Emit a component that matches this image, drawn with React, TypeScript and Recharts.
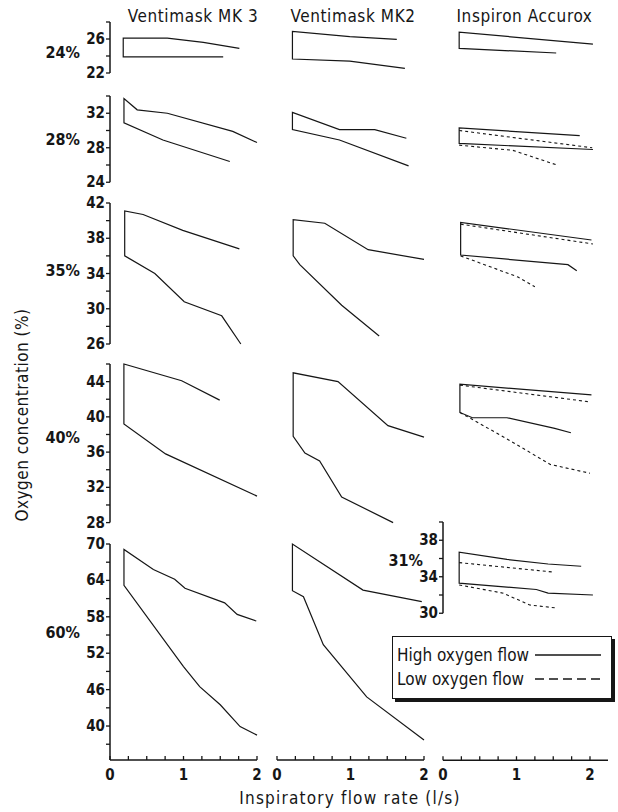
import React from 'react'
import { LineChart, Line, XAxis, YAxis, ReferenceLine } from 'recharts'

type P = [number, number] // [flow l/s, O2 %]

// Ventimask MK 3
const MK3_24_LO: P[] = [[0.18, 23.9], [1.54, 23.9]]
const MK3_24_HI: P[] = [[0.18, 26.1], [0.78, 26.1], [1.27, 25.6], [1.76, 24.9]]
const MK3_28_LO: P[] = [[0.19, 30.9], [0.72, 28.9], [1.63, 26.4]]
const MK3_28_HI: P[] = [[0.19, 33.7], [0.37, 32.4], [0.78, 32.0], [1.67, 29.9], [2.0, 28.6]]
const MK3_35_LO: P[] = [[0.2, 36.0], [0.61, 34.0], [1.01, 30.8], [1.52, 29.2], [1.78, 26.0]]
const MK3_35_HI: P[] = [[0.2, 41.1], [0.45, 40.7], [0.99, 38.9], [1.76, 36.8]]
const MK3_40_LO: P[] = [[0.19, 39.2], [0.76, 35.8], [2.01, 31.0]]
const MK3_40_HI: P[] = [[0.19, 46.0], [0.98, 44.1], [1.5, 41.9]]
const MK3_60_LO: P[] = [[0.19, 63.2], [1.0, 49.8], [1.22, 46.5], [1.5, 43.5], [1.77, 39.9], [2.0, 38.5]]
const MK3_60_HI: P[] = [[0.19, 69.1], [0.59, 65.8], [0.88, 64.2], [1.02, 62.7], [1.56, 60.3], [1.73, 58.4], [1.99, 57.3]]

// Ventimask MK2
const MK2_24_LO: P[] = [[0.21, 23.65], [0.99, 23.4], [1.74, 22.55]]
const MK2_24_HI: P[] = [[0.21, 26.9], [0.99, 26.27], [1.63, 25.96]]
const MK2_28_LO: P[] = [[0.21, 30.1], [0.85, 28.9], [1.79, 25.9]]
const MK2_28_HI: P[] = [[0.21, 32.1], [0.85, 30.1], [1.33, 30.1], [1.76, 29.1]]
const MK2_35_LO: P[] = [[0.22, 36.0], [0.31, 35.0], [0.88, 30.4], [1.39, 26.9]]
const MK2_35_HI: P[] = [[0.22, 40.1], [0.65, 39.7], [1.24, 36.7], [2.0, 35.6]]
const MK2_40_LO: P[] = [[0.22, 37.8], [0.38, 35.9], [0.58, 35.0], [0.88, 30.9], [1.58, 28.0]]
const MK2_40_HI: P[] = [[0.22, 45.0], [0.83, 44.0], [1.51, 39.0], [2.0, 37.7]]
const MK2_60_LO: P[] = [[0.21, 62.3], [0.36, 61.3], [0.63, 53.4], [1.22, 44.8], [2.0, 37.7]]
const MK2_60_HI: P[] = [[0.21, 70.0], [1.17, 62.4], [1.97, 60.5]]

// Inspiron Accurox (solid = high O2 flow, dashed = low O2 flow)
const ACC_24_LO: P[] = [[0.22, 24.9], [1.54, 24.35]]
const ACC_24_HI: P[] = [[0.22, 26.8], [2.04, 25.4]]
const ACC_28_LO: P[] = [[0.22, 28.5], [2.04, 27.8]]
const ACC_28_HI: P[] = [[0.22, 30.3], [1.86, 29.4]]
const ACC_28_LO_D: P[] = [[0.22, 28.3], [0.95, 27.7], [1.55, 26.0]]
const ACC_28_HI_D: P[] = [[0.22, 30.0], [2.03, 28.0]]
const ACC_35_LO: P[] = [[0.24, 36.1], [1.7, 35.0], [1.82, 34.3]]
const ACC_35_HI: P[] = [[0.24, 39.8], [2.02, 37.8]]
const ACC_35_LO_D: P[] = [[0.24, 36.0], [1.02, 33.6], [1.25, 32.5]]
const ACC_35_HI_D: P[] = [[0.24, 39.6], [2.04, 37.35]]
const ACC_40_LO: P[] = [[0.23, 40.5], [0.4, 39.9], [0.87, 39.9], [1.52, 38.7], [1.74, 38.2]]
const ACC_40_HI: P[] = [[0.23, 43.7], [2.02, 42.5]]
const ACC_40_LO_D: P[] = [[0.23, 40.5], [0.87, 37.5], [1.46, 34.6], [2.0, 33.6]]
const ACC_40_HI_D: P[] = [[0.23, 43.6], [2.0, 41.7]]
const ACC_31_LO: P[] = [[0.22, 33.3], [1.27, 32.6], [1.43, 32.2], [2.04, 32.0]]
const ACC_31_HI: P[] = [[0.22, 36.7], [0.87, 35.9], [1.43, 35.4], [1.88, 35.15]]
const ACC_31_LO_D: P[] = [[0.22, 33.1], [0.82, 32.2], [1.18, 30.9], [1.52, 30.6]]
const ACC_31_HI_D: P[] = [[0.22, 35.55], [1.52, 34.5]]

const TITLES = ['Ventimask MK 3', 'Ventimask MK2', 'Inspiron Accurox']
const ROW_LABELS = ['24%', '28%', '35%', '40%', '60%']
const X_TICKS = [0, 0.25, 0.5, 0.75, 1, 1.25, 1.5, 1.75, 2]
const X_LABELS = [0, 1, 2]
const Y_DOMAINS: [number, number][] = [[22, 28], [24, 34], [26, 42], [28, 46], [34.4, 70]]
const Y_TICKS = [
  [22, 24, 26, 28],
  [24, 26, 28, 30, 32, 34],
  [26, 28, 30, 32, 34, 36, 38, 40, 42],
  [28, 30, 32, 34, 36, 38, 40, 42, 44, 46],
  [37, 40, 43, 46, 49, 52, 55, 58, 61, 64, 67, 70],
]
const Y_LABELS = [
  [22, 26],
  [24, 28, 32],
  [26, 30, 34, 38, 42],
  [28, 32, 36, 40, 44],
  [40, 46, 52, 58, 64, 70],
]
const INSET_LABEL = '31%'
const INSET_RANGE: [number, number] = [30, 40]
const INSET_TICKS = [30, 32, 34, 36, 38, 40]
const INSET_LABELS = [30, 34, 38]
const LEGEND = ['High oxygen flow', 'Low oxygen flow']

// layout (px on page)
const ROW_PX = [[22, 73], [95.75, 182], [203, 344], [364.4, 523], [544, 760]]
const COL_PX = [{ left: 110, w: 147, dom: [0, 2] }, { left: 277, w: 147, dom: [0, 2] }, { left: 443, w: 165, dom: [0, 2.245] }]
const INSET_TOP = 521.75
const INSET_PX_PER_UNIT = 9.125
const INSET_DOMAIN = [INSET_RANGE[1] - (760 - INSET_TOP) / INSET_PX_PER_UNIT, INSET_RANGE[1]]

const FONT = '"DejaVu Sans Condensed", "DejaVu Sans", sans-serif'
const INK = '#161616'
const M = 6

const pts = (a: P[]) => a.map(([f, o]) => ({ f, o }))
const outline = (lo: P[], hi: P[]) => pts([...lo].reverse().concat(hi))

type S = { data: { f: number; o: number }[]; dashed?: boolean }

const PANELS: S[][][] = [
  [
    [{ data: outline(MK3_24_LO, MK3_24_HI) }],
    [{ data: outline(MK2_24_LO, MK2_24_HI) }],
    [{ data: outline(ACC_24_LO, ACC_24_HI) }],
  ],
  [
    [{ data: outline(MK3_28_LO, MK3_28_HI) }],
    [{ data: outline(MK2_28_LO, MK2_28_HI) }],
    [{ data: outline(ACC_28_LO, ACC_28_HI) }, { data: pts(ACC_28_LO_D), dashed: true }, { data: pts(ACC_28_HI_D), dashed: true }],
  ],
  [
    [{ data: outline(MK3_35_LO, MK3_35_HI) }],
    [{ data: outline(MK2_35_LO, MK2_35_HI) }],
    [{ data: outline(ACC_35_LO, ACC_35_HI) }, { data: pts(ACC_35_LO_D), dashed: true }, { data: pts(ACC_35_HI_D), dashed: true }],
  ],
  [
    [{ data: outline(MK3_40_LO, MK3_40_HI) }],
    [{ data: outline(MK2_40_LO, MK2_40_HI) }],
    [{ data: outline(ACC_40_LO, ACC_40_HI) }, { data: pts(ACC_40_LO_D), dashed: true }, { data: pts(ACC_40_HI_D), dashed: true }],
  ],
  [
    [{ data: outline(MK3_60_LO, MK3_60_HI) }],
    [{ data: outline(MK2_60_LO, MK2_60_HI) }],
  ],
]
const INSET: S[] = [{ data: outline(ACC_31_LO, ACC_31_HI) }, { data: pts(ACC_31_LO_D), dashed: true }, { data: pts(ACC_31_HI_D), dashed: true }]

const xTick = (props: any) => {
  const { x, y, payload } = props
  return (
    <g>
      <line x1={x} x2={x} y1={y} y2={y - 4} stroke={INK} strokeWidth={1.3} />
      {X_LABELS.includes(payload.value) && (
        <text x={x} y={y + 20} textAnchor="middle" fontFamily={FONT} fontWeight="bold" fontSize={15} fill={INK}>{payload.value}</text>
      )}
    </g>
  )
}

const yTick = (labels: number[]) => (props: any) => {
  const { x, y, payload } = props
  return (
    <g>
      <line x1={x} x2={x - 4} y1={y} y2={y} stroke={INK} strokeWidth={1.3} />
      {labels.includes(payload.value) && (
        <text x={x - 5} y={y} dy={5} textAnchor="end" fontFamily={FONT} fontWeight="bold" fontSize={15} fill={INK}>{payload.value}</text>
      )}
    </g>
  )
}

const lines = (series: S[], yAxisId?: string) =>
  series.map((s, i) => (
    <Line key={i} data={s.data} dataKey="o" type="linear" stroke={INK} yAxisId={yAxisId}
      strokeWidth={s.dashed ? 1.1 : 1.2} strokeDasharray={s.dashed ? '3 3' : undefined}
      dot={false} activeDot={false} isAnimationActive={false} />
  ))

interface PanelProps {
  left: number; top: number; w: number; h: number
  xDom: number[]; yDom: number[]; series: S[]
  yTicks?: number[]; yLabels?: number[]; showX?: boolean
}

function Panel({ left, top, w, h, xDom, yDom, series, yTicks, yLabels, showX }: PanelProps) {
  const yw = yTicks ? 40 : 0
  const xh = showX ? 32 : 0
  return (
    <div style={{ position: 'absolute', left: left - M - yw, top: top - M }}>
      <LineChart width={w + 2 * M + yw} height={h + 2 * M + xh} margin={{ top: M, right: M, bottom: M, left: M }}>
        <XAxis type="number" dataKey="f" domain={xDom} ticks={X_TICKS} hide={!showX} height={xh}
          tick={xTick} tickLine={false} tickSize={0} tickMargin={0} interval={0}
          axisLine={{ stroke: INK, strokeWidth: 1.5 }} />
        <YAxis type="number" domain={yDom} ticks={yTicks} hide={!yTicks} width={yw}
          tick={yLabels ? yTick(yLabels) : false} tickLine={false} tickSize={0} tickMargin={0} interval={0}
          axisLine={{ stroke: INK, strokeWidth: 1.5 }} />
        {lines(series)}
      </LineChart>
    </div>
  )
}

const text = (s: string, x: number, y: number, opts: React.CSSProperties = {}) => (
  <div key={s} style={{ position: 'absolute', left: x, top: y - 11, height: 22, lineHeight: '22px', whiteSpace: 'nowrap', fontFamily: FONT, fontSize: 16, color: INK, ...opts }}>{s}</div>
)

export default function App() {
  const rowMid = [53, 140, 271, 438, 633]
  const acc = COL_PX[2]
  const insetH = 760 - INSET_TOP
  return (
    <div style={{ position: 'absolute', left: 0, top: 0, width: 618, height: 812, background: '#fff', overflow: 'hidden' }}>
      <style>{'.recharts-surface{overflow:visible}'}</style>
      {TITLES.map((t, i) => text(t, [118, 281, 448][i], 16, { width: [150, 144, 153][i], textAlign: 'center', fontSize: 17, letterSpacing: 0.6 }))}
      {ROW_LABELS.map((t, i) => text(t, 20, rowMid[i], { width: 60, textAlign: 'right', fontWeight: 'bold' }))}

      {PANELS.map((row, r) => row.map((series, c) => {
        const col = COL_PX[c]
        const [t, b] = ROW_PX[r]
        return (
          <Panel key={`${r}-${c}`} left={col.left} top={t} w={col.w} h={b - t} xDom={col.dom} yDom={Y_DOMAINS[r]}
            series={series} yTicks={c === 0 ? Y_TICKS[r] : undefined} yLabels={c === 0 ? Y_LABELS[r] : undefined}
            showX={r === 4} />
        )
      }))}

      {/* Accurox bottom cell: x axis plus the 31% inset with its own short y axis */}
      <div style={{ position: 'absolute', left: acc.left - M - 40, top: INSET_TOP - M }}>
        <LineChart width={acc.w + 2 * M + 40} height={insetH + 2 * M + 32} margin={{ top: M, right: M, bottom: M, left: M }}>
          <XAxis type="number" dataKey="f" domain={acc.dom} ticks={X_TICKS} height={32}
            tick={xTick} tickLine={false} tickSize={0} tickMargin={0} interval={0}
            axisLine={{ stroke: INK, strokeWidth: 1.5 }} />
          <YAxis yAxisId="inset" type="number" domain={INSET_DOMAIN} ticks={INSET_TICKS} width={40}
            tick={yTick(INSET_LABELS)} tickLine={false} tickSize={0} tickMargin={0} interval={0} axisLine={false} />
          <ReferenceLine yAxisId="inset" segment={[{ x: 0, y: INSET_RANGE[0] }, { x: 0, y: INSET_RANGE[1] }]}
            stroke={INK} strokeWidth={1.5} />
          {lines(INSET, 'inset')}
        </LineChart>
      </div>
      {text(INSET_LABEL, 380, 561, { width: 43, textAlign: 'right', fontWeight: 'bold' })}

      {/* legend */}
      <div style={{ position: 'absolute', left: 392, top: 636, width: 218, height: 61, border: `1.5px solid ${INK}`, boxShadow: `3px 3px 0 ${INK}`, background: '#fff' }}>
        {LEGEND.map((l, i) => (
          <div key={l} style={{ position: 'absolute', left: 4, top: 7 + i * 24, height: 22, lineHeight: '22px', fontFamily: FONT, fontSize: 17, color: INK, whiteSpace: 'nowrap', display: 'flex', alignItems: 'center' }}>
            <span style={{ width: 136 }}>{l}</span>
            <svg width={70} height={6}><line x1={2} x2={68} y1={3} y2={3} stroke={INK} strokeWidth={1.5} strokeDasharray={i ? '9 5' : undefined} /></svg>
          </div>
        ))}
      </div>

      {text('Inspiratory flow rate (l/s)', 200, 798, { width: 300, textAlign: 'center', fontSize: 17, letterSpacing: 1.2 })}
      <div style={{ position: 'absolute', left: 22 - 140, top: 415 - 11, width: 280, height: 22, lineHeight: '22px', textAlign: 'center', transform: 'rotate(-90deg)', fontFamily: FONT, fontSize: 17, letterSpacing: 0.5, color: INK, whiteSpace: 'nowrap' }}>
        Oxygen concentration (%)
      </div>
    </div>
  )
}
